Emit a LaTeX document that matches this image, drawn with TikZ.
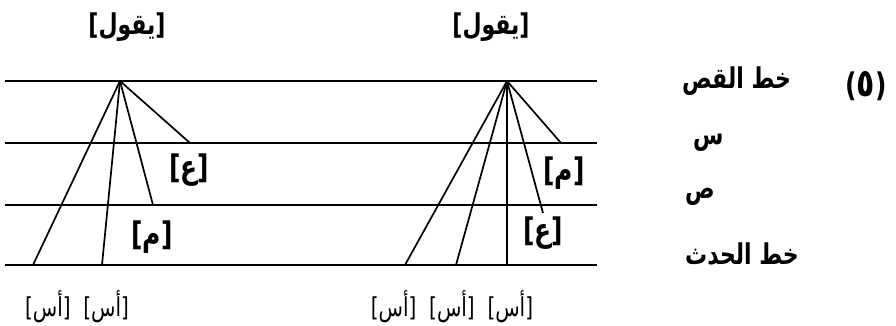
\documentclass[tikz,border=0pt]{standalone}
\usepackage{fontspec}
\usepackage{graphicx}
\TeXXeTstate=1
\newfontfamily\arabicfont[Script=Arabic]{DejaVu Sans}
\newfontfamily\latinfont{DejaVu Sans}
\newcommand{\AR}[1]{\scalebox{1}[1.3]{\beginR #1\endR}}
\newcommand{\BR}[1]{\scalebox{1}[1.3]{{\latinfont[}\beginR #1\endR{\latinfont]}}}
\begin{document}
\begin{tikzpicture}[x=1pt,y=-1pt,
  rule/.style={line width=1.7pt},
  branch/.style={line width=1.7pt},
  big/.style={font=\arabicfont\bfseries\fontsize{22}{26}\selectfont, inner sep=0pt},
  mid/.style={font=\arabicfont\bfseries\fontsize{25}{29}\selectfont, inner sep=0pt},
  small/.style={font=\arabicfont\fontsize{20}{24}\selectfont, inner sep=0pt}]
\useasboundingbox (0,0) rectangle (896,325);

% horizontal lines
\foreach \n/\y in {cut/81, s/143, p/205, ev/265}{
  \coordinate (\n W) at (5,\y);
  \coordinate (\n E) at (597,\y);
  \draw[rule] (\n W) -- (\n E);
}

% left tree
\coordinate (LA) at (120,81);
\coordinate (L1) at (33,265);
\coordinate (L2) at (102,265);
\coordinate (L3) at (153,205);
\coordinate (L4) at (190,143);
\foreach \e in {L1,L2,L3,L4} \draw[branch] (LA) -- (\e);

% right tree
\coordinate (RA) at (507,81);
\coordinate (R1) at (405,265);
\coordinate (R2) at (456,265);
\coordinate (R3) at (507,265);
\coordinate (R4) at (543,213);
\coordinate (R5) at (561,143);
\foreach \e in {R1,R2,R3,R4,R5} \draw[branch] (RA) -- (\e);

% labels
\node[big] (ltop) at (127,27) {\BR{يقول}};
\node[big] (rtop) at (491,27) {\BR{يقول}};
\node[mid] (lE) at (189,170) {\BR{ع}};
\node[mid] (lM) at (152,237) {\BR{م}};
\node[mid] (rM) at (564,173) {\BR{م}};
\node[mid] (rE) at (543,233) {\BR{ع}};
\node[small] (lbot) at (77,307) {\BR{أس}\ \ \BR{أس}};
\node[small] (rbot) at (452,307) {\BR{أس}\ \ \BR{أس}\ \ \BR{أس}};

\node[inner sep=0pt,font=\latinfont\bfseries\fontsize{25}{29}\selectfont] (num) at (866,86) {\scalebox{1}[1.3]{({\arabicfont\fontsize{30}{30}\selectfont ٥})}};
\node[big,anchor=west] (tcut) at (682,81) {\AR{خط القص}};
\node[big,anchor=west] (ts) at (693,143) {\AR{س}};
\node[big,anchor=west] (tp) at (685,197) {\AR{ص}};
\node[big,anchor=west] (tev) at (685,254) {\AR{خط الحدث}};
\end{tikzpicture}
\end{document}
